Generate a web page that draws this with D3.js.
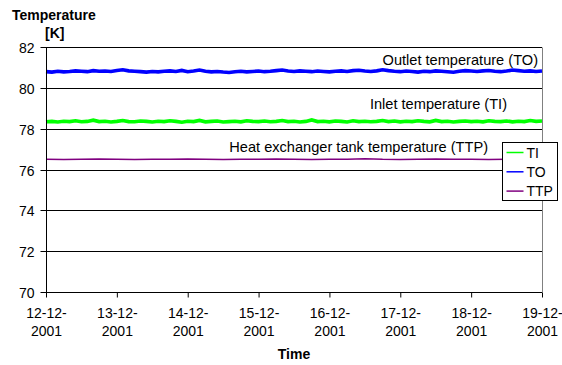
<!DOCTYPE html>
<html>
<head>
<meta charset="utf-8">
<script src="https://cdn.jsdelivr.net/npm/d3@7"></script>
<style>
  body { margin: 0; background: #fff; }
  text { font-family: "Liberation Sans", Arial, sans-serif; fill: #000; }
</style>
</head>
<body>
<div id="chart"></div>
<script>
// sampled every 2 hours from 12-12-2001 00:00
let toValues = [
  80.78, 80.76, 80.80, 80.77, 80.79, 80.82, 80.80, 80.78, 80.83, 80.80,
  80.81, 80.79, 80.84, 80.87, 80.82, 80.80, 80.78, 80.76, 80.79, 80.77,
  80.80, 80.82, 80.79, 80.84, 80.78, 80.81, 80.86, 80.80, 80.77, 80.79,
  80.76, 80.74, 80.78, 80.80, 80.77, 80.79, 80.81, 80.78, 80.80, 80.83,
  80.86, 80.81, 80.79, 80.82, 80.80, 80.78, 80.81, 80.79, 80.77, 80.80,
  80.82, 80.79, 80.83, 80.85, 80.81, 80.79, 80.82, 80.87, 80.83, 80.80,
  80.78, 80.81, 80.79, 80.76, 80.80, 80.78, 80.82, 80.80, 80.78, 80.75,
  80.80, 80.83, 80.81, 80.79, 80.82, 80.84, 80.80, 80.78, 80.81, 80.86,
  80.83, 80.80, 80.82, 80.79, 80.81
];
let tiValues = [
  78.33, 78.35, 78.32, 78.36, 78.34, 78.38, 78.33, 78.35, 78.41, 78.34,
  78.36, 78.32, 78.35, 78.39, 78.34, 78.33, 78.37, 78.35, 78.32, 78.36,
  78.34, 78.38, 78.35, 78.31, 78.36, 78.34, 78.40, 78.33, 78.35, 78.37,
  78.32, 78.34, 78.36, 78.33, 78.38, 78.35, 78.34, 78.37, 78.33, 78.35,
  78.39, 78.34, 78.36, 78.32, 78.35, 78.42, 78.34, 78.36, 78.33, 78.37,
  78.35, 78.32, 78.38, 78.34, 78.36, 78.33, 78.35, 78.39, 78.34, 78.37,
  78.33, 78.36, 78.34, 78.38, 78.35, 78.33, 78.40, 78.34, 78.36, 78.32,
  78.35, 78.37, 78.34, 78.36, 78.33, 78.38, 78.35, 78.34, 78.37, 78.33,
  78.36, 78.34, 78.39, 78.35, 78.37
];
// sampled every 6 hours
let ttpValues = [
  76.50, 76.49, 76.50, 76.51, 76.50, 76.49, 76.50, 76.50, 76.51, 76.50,
  76.49, 76.50, 76.50, 76.51, 76.50, 76.49, 76.50, 76.50, 76.53, 76.50,
  76.49, 76.50, 76.51, 76.50, 76.50, 76.49, 76.50, 76.51, 76.50
];
let yTicks = [70, 72, 74, 76, 78, 80, 82];
let legendNames = ['TI', 'TO', 'TTP'];
let labels = [
  { text: 'Outlet temperature (TO)', value: 81.1, x: 538 },
  { text: 'Inlet temperature (TI)', value: 78.95, x: 507 },
  { text: 'Heat exchanger tank temperature (TTP)', value: 76.85, x: 488 }
];

(function() {
  let colors = { TI: '#00ff00', TO: '#0000ff', TTP: '#800080' };
  let start = new Date(2001, 11, 12);
  let end = new Date(2001, 11, 19);

  let svg = d3.select('#chart').append('svg')
    .attr('width', 562)
    .attr('height', 365);

  let left = 46, right = 542, top = 46.7, bottom = 292.3;
  let x = d3.scaleTime().domain([start, end]).range([left, right]);
  let y = d3.scaleLinear().domain([70, 82]).range([bottom, top]);
  let snap = v => Math.round(v) + 0.5;

  // gridlines
  svg.append('g')
    .selectAll('line')
    .data(yTicks)
    .join('line')
    .attr('x1', left).attr('x2', right)
    .attr('y1', d => snap(y(d))).attr('y2', d => snap(y(d)))
    .attr('stroke', '#000');

  // right border
  svg.append('line')
    .attr('x1', right + 0.5).attr('x2', right + 0.5)
    .attr('y1', snap(top)).attr('y2', snap(bottom))
    .attr('stroke', '#808080');

  // series
  let hours = (i, step) => d3.timeHour.offset(start, i * step);
  let line = d3.line()
    .x(d => x(d.date))
    .y(d => y(d.value));
  let series = [
    { name: 'TO', width: 3.6, data: toValues.map((v, i) => ({ date: hours(i, 2), value: v })) },
    { name: 'TI', width: 3.6, data: tiValues.map((v, i) => ({ date: hours(i, 2), value: v })) },
    { name: 'TTP', width: 1.5, data: ttpValues.map((v, i) => ({ date: hours(i, 6), value: v })) }
  ];
  svg.append('g')
    .selectAll('path')
    .data(series)
    .join('path')
    .attr('fill', 'none')
    .attr('stroke', d => colors[d.name])
    .attr('stroke-width', d => d.width)
    .attr('d', d => line(d.data));

  // y axis
  let yAxis = svg.append('g')
    .attr('transform', `translate(${left + 0.5},0)`)
    .call(d3.axisLeft(y).tickValues(yTicks).tickSize(6).tickPadding(6))
    .call(g => g.select('.domain').remove());
  yAxis.append('line')
    .attr('y1', snap(top)).attr('y2', snap(bottom))
    .attr('stroke', '#000');
  yAxis.selectAll('.tick')
    .attr('transform', d => `translate(0,${snap(y(d))})`);
  yAxis.selectAll('.tick line').attr('stroke', '#000');
  yAxis.selectAll('text')
    .style('font-size', '14px')
    .attr('dy', '0.36em');

  // x axis
  let days = d3.timeDay.range(start, d3.timeDay.offset(end, 1));
  let fmt = d3.timeFormat('%d-%m-');
  let xAxis = svg.append('g')
    .attr('transform', `translate(0,${snap(bottom)})`)
    .call(d3.axisBottom(x).tickValues(days).tickSize(5).tickFormat(''))
    .call(g => g.select('.domain').remove());
  xAxis.selectAll('.tick line').attr('stroke', '#000');
  let xl = xAxis.selectAll('.tick').append('text')
    .style('font-size', '14px')
    .attr('text-anchor', 'middle');
  xl.append('tspan').attr('x', 0).attr('y', 25).text(d => fmt(d));
  xl.append('tspan').attr('x', 0).attr('y', 43).text(d => d.getFullYear());

  // annotations
  svg.append('g')
    .selectAll('text')
    .data(labels)
    .join('text')
    .attr('x', d => d.x)
    .attr('y', d => y(d.value))
    .attr('text-anchor', 'end')
    .style('font-size', '14.6px')
    .text(d => d.text);

  // axis titles
  svg.append('text')
    .attr('x', 12).attr('y', 20)
    .style('font-size', '14px').style('font-weight', 'bold')
    .text('Temperature');
  svg.append('text')
    .attr('x', 45).attr('y', 38)
    .style('font-size', '14px').style('font-weight', 'bold')
    .text('[K]');
  svg.append('text')
    .attr('x', (left + right) / 2).attr('y', 359)
    .attr('text-anchor', 'middle')
    .style('font-size', '14px').style('font-weight', 'bold')
    .text('Time');

  // legend
  let legend = svg.append('g').attr('transform', 'translate(502.5,142.5)');
  legend.append('rect')
    .attr('width', 55).attr('height', 58)
    .attr('fill', '#fff').attr('stroke', '#000');
  let item = legend.selectAll('g')
    .data(legendNames)
    .join('g')
    .attr('transform', (d, i) => `translate(0,${10 + i * 19.3})`);
  item.append('line')
    .attr('x1', 4).attr('x2', 21)
    .attr('stroke', d => colors[d])
    .attr('stroke-width', 1.5);
  item.append('text')
    .attr('x', 24).attr('dy', '0.36em')
    .style('font-size', '14px')
    .text(d => d);
})();
</script>
</body>
</html>
